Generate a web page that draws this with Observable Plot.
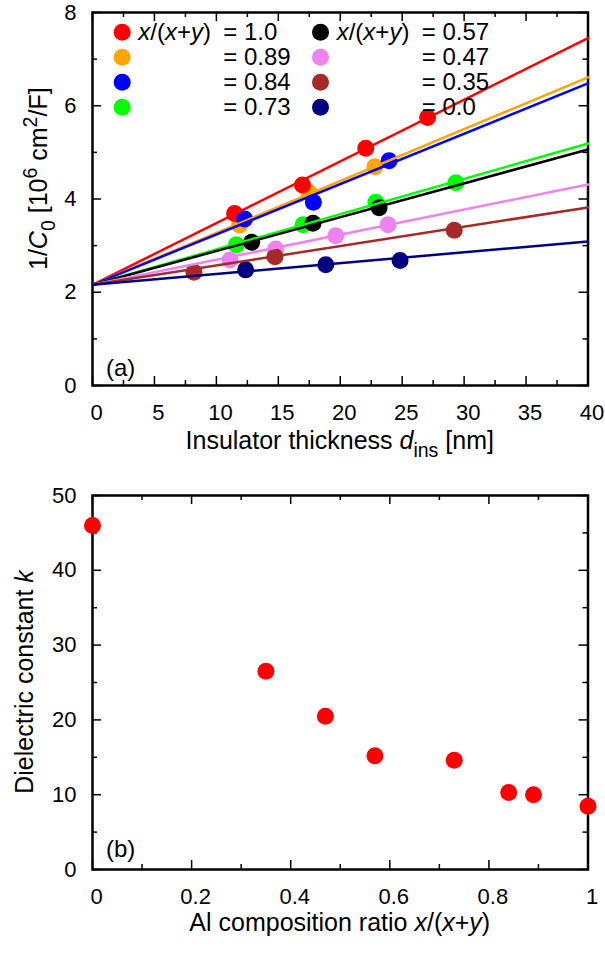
<!DOCTYPE html>
<html><head><meta charset="utf-8">
<script src="https://cdn.jsdelivr.net/npm/d3@7"></script>
<script src="https://cdn.jsdelivr.net/npm/@observablehq/plot@0.6"></script>
<style>
body{margin:0;background:#fff;}
#chart svg{display:block;}
text{white-space:pre;}
</style></head><body><div id="chart"></div>
<script>
const FONT = '"Liberation Sans", Arial, Helvetica, sans-serif';

// ---------- Panel (a): 1/C0 vs insulator thickness ----------
const seriesRatio = ["1.0", "0.89", "0.84", "0.73", "0.57", "0.47", "0.35", "0.0"];
const seriesColor = ["#ff0000", "#ffa500", "#0000ff", "#00ff00", "#000000", "#ee82ee", "#a52a2a", "#000080"];
const fitRange = [0, 40];
const fitIntercept = 2.16;
const fitAtEnd = [7.45, 6.61, 6.48, 5.19, 5.06, 4.31, 3.82, 3.09];
const thickness = [
  [11.47, 16.95, 22.06, 27.05],
  [11.88, 17.48, 22.79],
  [12.28, 17.83, 23.94],
  [11.61, 16.99, 22.87, 29.33],
  [12.85, 17.80, 23.14],
  [11.10, 14.79, 19.64, 23.86],
  [8.19, 14.73, 29.20],
  [12.36, 18.83, 24.83]
];
const invC = [
  [3.69, 4.30, 5.09, 5.75],
  [3.44, 4.14, 4.69],
  [3.57, 3.93, 4.82],
  [3.02, 3.45, 3.93, 4.35],
  [3.07, 3.48, 3.81],
  [2.69, 2.93, 3.21, 3.45],
  [2.43, 2.76, 3.33],
  [2.48, 2.59, 2.68]
];
const pointOrder = [1, 0, 2, 3, 4, 5, 6, 7];
const xTicksA = [0, 5, 10, 15, 20, 25, 30, 35, 40];
const xTickLabelsA = ["0", "5", "10", "15", "20", "25", "30", "35", "40"];
const xMinorA = [2.5, 7.5, 12.5, 17.5, 22.5, 27.5, 32.5, 37.5];
const yTicksA = [0, 2, 4, 6, 8];
const yTickLabelsA = ["0", "2", "4", "6", "8"];
const yMinorA = [1, 3, 5, 7];

// ---------- Panel (b): dielectric constant vs Al ratio ----------
const composition = [0, 0.35, 0.47, 0.57, 0.73, 0.84, 0.89, 1.0];
const kValues = [46.0, 26.5, 20.5, 15.2, 14.6, 10.3, 10.0, 8.46];
const xTicksB = [0, 0.2, 0.4, 0.6, 0.8, 1];
const xTickLabelsB = ["0", "0.2", "0.4", "0.6", "0.8", "1"];
const xMinorB = [0.1, 0.3, 0.5, 0.7, 0.9];
const yTicksB = [0, 10, 20, 30, 40, 50];
const yTickLabelsB = ["0", "10", "20", "30", "40", "50"];
const yMinorB = [5, 15, 25, 35, 45];

// ---------- layout ----------
const W = 605, ML = 92, MR = 17.5;
const plotW = W - ML - MR;
const HA = 475, MTA = 12, MBA = 90, plotHA = HA - MTA - MBA;
const HB = 478, MTB = 20, MBB = 84, plotHB = HB - MTB - MBB;
const MAJ = 9, MIN = 5;
const TICKFONT = 22;

function frameTicks(xMaj, xMin, yMaj, yMin, plotH) {
  const s = {stroke: "black", strokeWidth: 1.5};
  return [
    Plot.tickX(xMaj, {x: d => d, insetTop: plotH - MAJ, ...s}),
    Plot.tickX(xMaj, {x: d => d, insetBottom: plotH - MAJ, ...s}),
    Plot.tickX(xMin, {x: d => d, insetTop: plotH - MIN, ...s}),
    Plot.tickX(xMin, {x: d => d, insetBottom: plotH - MIN, ...s}),
    Plot.tickY(yMaj, {y: d => d, insetRight: plotW - MAJ, ...s}),
    Plot.tickY(yMaj, {y: d => d, insetLeft: plotW - MAJ, ...s}),
    Plot.tickY(yMin, {y: d => d, insetRight: plotW - MIN, ...s}),
    Plot.tickY(yMin, {y: d => d, insetLeft: plotW - MIN, ...s})
  ];
}

function richText(sel, {x, y, rotate = 0, anchor = "start", size, parts}) {
  const t = sel.append("text")
    .attr("transform", `translate(${x},${y}) rotate(${rotate})`)
    .attr("text-anchor", anchor)
    .attr("font-family", FONT)
    .attr("font-size", size)
    .attr("fill", "black");
  let shift = 0;
  for (const p of parts) {
    const ts = t.append("tspan").text(p.t);
    const target = p.sub ? size * 0.32 : p.sup ? -size * 0.42 : 0;
    if (target !== shift) { ts.attr("dy", target - shift); shift = target; }
    if (p.sub || p.sup) ts.attr("font-size", size * 0.78);
    if (p.it) ts.attr("font-style", "italic");
  }
  return t;
}

const style = {fontFamily: FONT, fontSize: TICKFONT + "px", color: "black", background: "white", overflow: "visible"};

// data tables
const pointsA = pointOrder.flatMap(i => thickness[i].map((d, j) => ({series: i, d, v: invC[i][j]})));
const fitsA = seriesRatio.flatMap((r, i) => [
  {series: i, d: fitRange[0], v: fitIntercept},
  {series: i, d: fitRange[1], v: fitAtEnd[i]}
]);

const legendMarks = seriesRatio.map((r, i) => Plot.dot([i], {
  frameAnchor: "top-left",
  dx: i < 4 ? 29.7 : 228,
  dy: 19.7 + 25 * (i % 4),
  r: 8.5,
  fill: seriesColor[i]
}));

const chartA = Plot.plot({
  width: W, height: HA,
  marginLeft: ML, marginRight: MR, marginTop: MTA, marginBottom: MBA,
  style,
  x: {domain: [0, 40]},
  y: {domain: [0, 8]},
  marks: [
    Plot.frame({stroke: "black", strokeWidth: 2.5}),
    ...frameTicks(xTicksA, xMinorA, yTicksA, yMinorA, plotHA),
    Plot.axisX(xTicksA, {anchor: "bottom", tickSize: 0, tickPadding: 19, fontSize: TICKFONT, dx: 4, label: null,
      tickFormat: d => xTickLabelsA[xTicksA.indexOf(d)]}),
    Plot.axisY(yTicksA, {anchor: "left", tickSize: 0, tickPadding: 16, fontSize: TICKFONT, label: null,
      tickFormat: d => yTickLabelsA[yTicksA.indexOf(d)]}),
    Plot.dot(pointsA, {x: "d", y: "v", r: 8.5, fill: d => seriesColor[d.series]}),
    Plot.line(fitsA, {x: "d", y: "v", z: "series", stroke: d => seriesColor[d.series], strokeWidth: 2.5}),
    ...legendMarks
  ]
});

const pointsB = composition.map((c, i) => ({c, k: kValues[i]}));
const chartB = Plot.plot({
  width: W, height: HB,
  marginLeft: ML, marginRight: MR, marginTop: MTB, marginBottom: MBB,
  style,
  x: {domain: [0, 1]},
  y: {domain: [0, 50]},
  marks: [
    Plot.frame({stroke: "black", strokeWidth: 2.5}),
    ...frameTicks(xTicksB, xMinorB, yTicksB, yMinorB, plotHB),
    Plot.axisX(xTicksB, {anchor: "bottom", tickSize: 0, tickPadding: 19, fontSize: TICKFONT, dx: 4, label: null,
      tickFormat: d => xTickLabelsB[xTicksB.indexOf(d)]}),
    Plot.axisY(yTicksB, {anchor: "left", tickSize: 0, tickPadding: 16, fontSize: TICKFONT, label: null,
      tickFormat: d => yTickLabelsB[yTicksB.indexOf(d)]}),
    Plot.dot(pointsB, {x: "c", y: "k", r: 8.5, fill: "#ff0000"})
  ]
});

const root = document.getElementById("chart");
root.append(chartA, chartB);

// ---------- text overlays ----------
const sA = d3.select(chartA);
const xy = [{t: "x", it: true}, {t: "/("}, {t: "x", it: true}, {t: "+"}, {t: "y", it: true}, {t: ")"}];

richText(sA, {x: ML + plotW / 2, y: 449, anchor: "middle", size: 25,
  parts: [{t: "Insulator thickness "}, {t: "d", it: true}, {t: "ins", sub: true}, {t: " [nm]"}]});
richText(sA, {x: 47, y: 270, rotate: -90, anchor: "start", size: 25,
  parts: [{t: "1/"}, {t: "C", it: true}, {t: "0", sub: true}, {t: " [10"}, {t: "6", sup: true},
          {t: " cm"}, {t: "2", sup: true}, {t: "/F]"}]});
richText(sA, {x: 106, y: 376, size: 24, parts: [{t: "(a)"}]});

// legend labels
seriesRatio.forEach((r, i) => {
  const col = i < 4 ? 0 : 1, row = i % 4;
  const baseY = 31.7 + 25 * row + 8;
  if (row === 0) richText(sA, {x: col ? 336.7 : 138.3, y: baseY, size: 24, parts: xy});
  richText(sA, {x: col ? 421.7 : 223.3, y: baseY, size: 24, parts: [{t: "= " + r}]});
});

const sB = d3.select(chartB);
richText(sB, {x: ML + plotW / 2, y: 455.7, anchor: "middle", size: 25,
  parts: [{t: "Al composition ratio "}, ...xy]});
richText(sB, {x: 32.5, y: MTB + plotHB / 2, rotate: -90, anchor: "middle", size: 25,
  parts: [{t: "Dielectric constant "}, {t: "k", it: true}]});
richText(sB, {x: 106, y: 382, size: 24, parts: [{t: "(b)"}]});
</script>
</body></html>
